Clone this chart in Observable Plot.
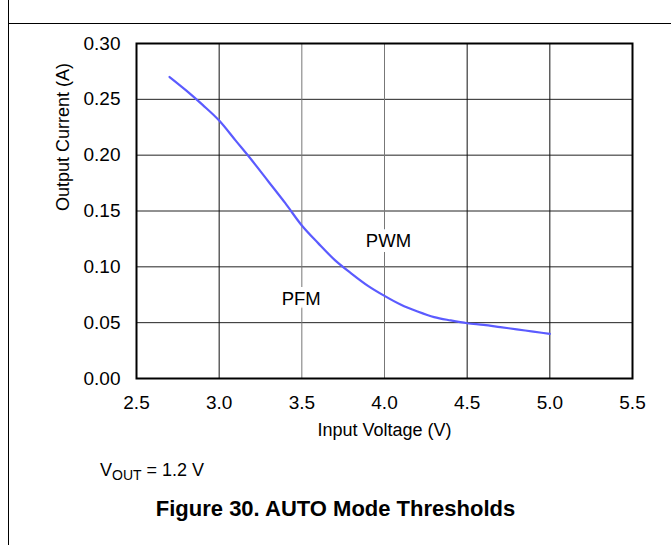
<!DOCTYPE html>
<html>
<head>
<meta charset="utf-8">
<script src="https://cdn.jsdelivr.net/npm/d3@7"></script>
<script src="https://cdn.jsdelivr.net/npm/@observablehq/plot@0.6"></script>
<style>
  html, body { margin: 0; padding: 0; background: #fff; }
  #wrap { position: relative; width: 671px; height: 545px; overflow: hidden; font-family: "Liberation Sans", Arial, sans-serif; }
  .hline { position: absolute; left: 8px; top: 23px; width: 663px; height: 1px; background: #000; }
  .vline { position: absolute; left: 8px; top: 0; width: 1px; height: 545px; background: #000; }
  .txt { position: absolute; color: #000; white-space: nowrap; }
  #chart { position: absolute; left: 0; top: 0; }
</style>
</head>
<body>
<div id="wrap">
  <div id="chart"></div>
  <div class="hline"></div>
  <div class="vline"></div>
</div>
<script>
// ---- data ----
const inputVoltage = [2.7, 2.8, 2.9, 3.0, 3.1, 3.2, 3.3, 3.4, 3.5, 3.6, 3.7, 3.8, 3.9, 4.0, 4.1, 4.2, 4.3, 4.4, 4.5, 4.6, 4.7, 4.8, 4.9, 5.0];
const outputCurrent = [0.270, 0.258, 0.245, 0.231, 0.213, 0.195, 0.176, 0.157, 0.137, 0.121, 0.106, 0.094, 0.083, 0.074, 0.066, 0.060, 0.055, 0.052, 0.0495, 0.048, 0.046, 0.044, 0.042, 0.040];
const xTicks = [2.5, 3.0, 3.5, 4.0, 4.5, 5.0, 5.5];
const yTicks = [0.00, 0.05, 0.10, 0.15, 0.20, 0.25, 0.30];
const modeLabels = ["PWM", "PFM"];
const modeX = [4.024, 3.496];
const modeY = [0.1227, 0.0707];
const xLabel = "Input Voltage (V)";
const yLabel = "Output Current (A)";
const figureTitle = "Figure 30. AUTO Mode Thresholds";

const curve = inputVoltage.map((v, i) => ({x: v, y: outputCurrent[i]}));
const modes = modeLabels.map((t, i) => ({text: t, x: modeX[i], y: modeY[i]}));
const innerX = xTicks.slice(1, -1);
const innerY = yTicks.slice(1, -1);
const grayX = new Set([3.5, 4.0]);

const chart = Plot.plot({
  width: 671,
  height: 545,
  marginLeft: 136,
  marginRight: 39,
  marginTop: 43,
  marginBottom: 167,
  style: {fontFamily: '"Liberation Sans", Arial, sans-serif', fontSize: "18px", background: "white", color: "black"},
  x: {domain: [2.5, 5.5]},
  y: {domain: [0, 0.30]},
  marks: [
    Plot.ruleY(innerY, {stroke: "#222", strokeWidth: 1}),
    Plot.ruleX(innerX, {stroke: d => grayX.has(d) ? "#777" : "#111", strokeWidth: 1}),
    Plot.text(modes, {x: "x", y: "y", text: "text", fill: "black", stroke: "white", strokeWidth: 10, fontSize: 18.5}),
    Plot.line(curve, {x: "x", y: "y", stroke: "#5b5bff", strokeWidth: 2.2, curve: "monotone-x"}),
    Plot.frame({stroke: "black", strokeWidth: 2}),
    Plot.axisY(yTicks, {tickSize: 0, tickPadding: 16, tickFormat: d3.format(".2f"), label: null, fontSize: 19}),
    Plot.axisX(xTicks, {tickSize: 0, tickPadding: 17, tickFormat: d3.format(".1f"), label: null, fontSize: 19}),
    Plot.text([yLabel], {frameAnchor: "left", dx: -73, rotate: -90, fontSize: 18, fill: "black"}),
    Plot.text([xLabel], {frameAnchor: "bottom", dy: 57, fontSize: 18, fill: "black"})
  ]
});
document.getElementById("chart").appendChild(chart);

const wrap = document.getElementById("wrap");
const vout = document.createElement("div");
vout.className = "txt";
vout.style.left = "100px";
vout.style.top = "460px";
vout.style.fontSize = "18px";
vout.innerHTML = 'V<sub style="font-size:14px;vertical-align:-4px;">OUT</sub> = 1.2 V';
wrap.appendChild(vout);

const title = document.createElement("div");
title.className = "txt";
title.style.left = "0";
title.style.width = "671px";
title.style.textAlign = "center";
title.style.top = "496px";
title.style.fontSize = "22px";
title.style.fontWeight = "bold";
title.textContent = figureTitle;
wrap.appendChild(title);
</script>
</body>
</html>
